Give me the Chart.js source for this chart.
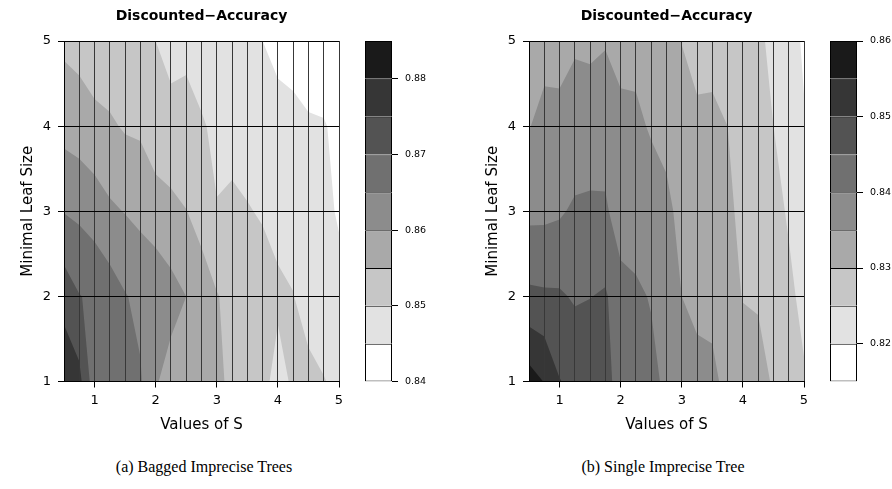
<!DOCTYPE html>
<html>
<head>
<meta charset="utf-8">
<script src="https://cdn.jsdelivr.net/npm/chart.js@4.4.0/dist/chart.umd.min.js"></script>
<style>
  html, body { margin: 0; padding: 0; background: #fff; }
  #page { position: relative; width: 892px; height: 489px; overflow: hidden; background: #fff; }
  canvas { position: absolute; top: 0; }
  .caption { position: absolute; top: 458px; font-family: 'Liberation Serif', serif; font-size: 16px; color: #000; white-space: nowrap; transform: translateX(-50%); }
</style>
</head>
<body>
<div id="page">
  <canvas id="contourA" width="350" height="445" style="left:0px"></canvas>
  <canvas id="keyA" width="100" height="445" style="left:350px"></canvas>
  <canvas id="contourB" width="350" height="445" style="left:465px"></canvas>
  <canvas id="keyB" width="100" height="445" style="left:815px"></canvas>
  <div class="caption" style="left:204px">(a) Bagged Imprecise Trees</div>
  <div class="caption" style="left:663px">(b) Single Imprecise Tree</div>
</div>
<script>
const FONT = "'DejaVu Sans', sans-serif";

// grid of the experiment
const sValues = [0.5, 0.75, 1, 1.25, 1.5, 1.75, 2, 2.25, 2.5, 2.75, 3, 3.25, 3.5, 3.75, 4, 4.25, 4.5, 4.75, 5];
const leafSizes = [1, 2, 3, 4, 5];
const sTickLabels = [1, 2, 3, 4, 5];

// (a) bagged imprecise trees, discounted accuracy per minimal leaf size
const baggedLeaf1 = [0.8790, 0.8765, 0.8670, 0.8672, 0.8665, 0.8655, 0.8605, 0.8580, 0.8570, 0.8565, 0.8555, 0.8545, 0.8525, 0.8510, 0.8488, 0.8505, 0.8510, 0.8502, 0.8490];
const baggedLeaf2 = [0.8730, 0.8702, 0.8691, 0.8675, 0.8653, 0.8638, 0.8636, 0.8618, 0.8600, 0.8570, 0.8553, 0.8535, 0.8520, 0.8515, 0.8506, 0.8501, 0.8485, 0.8475, 0.8465];
const baggedLeaf3 = [0.8648, 0.8640, 0.8627, 0.8608, 0.8598, 0.8588, 0.8573, 0.8563, 0.8551, 0.8535, 0.8502, 0.8507, 0.8502, 0.8497, 0.8490, 0.8485, 0.8475, 0.8462, 0.8445];
const baggedLeaf4 = [0.8583, 0.8575, 0.8564, 0.8557, 0.8545, 0.8542, 0.8520, 0.8515, 0.8515, 0.8505, 0.8490, 0.8488, 0.8485, 0.8478, 0.8469, 0.8464, 0.8455, 0.8453, 0.8440];
const baggedLeaf5 = [0.8540, 0.8533, 0.8520, 0.8515, 0.8512, 0.8508, 0.8500, 0.8485, 0.8490, 0.8475, 0.8470, 0.8466, 0.8462, 0.8450, 0.8435, 0.8430, 0.8425, 0.8422, 0.8420];

// (b) single imprecise tree
const singleLeaf1 = [0.8573, 0.8548, 0.8502, 0.8487, 0.8485, 0.8470, 0.8425, 0.8425, 0.8420, 0.8385, 0.8370, 0.8365, 0.8362, 0.8335, 0.8325, 0.8318, 0.8295, 0.8270, 0.8255];
const singleLeaf2 = [0.8460, 0.8457, 0.8456, 0.8445, 0.8449, 0.8455, 0.8425, 0.8413, 0.8395, 0.8380, 0.8350, 0.8338, 0.8335, 0.8318, 0.8298, 0.8295, 0.8280, 0.8260, 0.8238];
const singleLeaf3 = [0.8388, 0.8389, 0.8394, 0.8408, 0.8411, 0.8410, 0.8366, 0.8362, 0.8375, 0.8362, 0.8335, 0.8325, 0.8320, 0.8312, 0.8285, 0.8280, 0.8265, 0.8245, 0.8220];
const singleLeaf4 = [0.8348, 0.8365, 0.8365, 0.8365, 0.8366, 0.8367, 0.8362, 0.8360, 0.8345, 0.8335, 0.8320, 0.8307, 0.8308, 0.8300, 0.8280, 0.8265, 0.8250, 0.8220, 0.8203];
const singleLeaf5 = [0.8320, 0.8333, 0.8331, 0.8346, 0.8344, 0.8348, 0.8335, 0.8335, 0.8325, 0.8320, 0.8299, 0.8288, 0.8288, 0.8285, 0.8270, 0.8262, 0.8235, 0.8215, 0.8195];

// contour levels and key ticks
const baggedLevels = [0.84, 0.845, 0.85, 0.855, 0.86, 0.865, 0.87, 0.875, 0.88, 0.885];
const singleLevels = [0.815, 0.82, 0.825, 0.83, 0.835, 0.84, 0.845, 0.85, 0.855, 0.86];
const baggedKeyTicks = [0.84, 0.85, 0.86, 0.87, 0.88];
const singleKeyTicks = [0.82, 0.83, 0.84, 0.85, 0.86];
const grayBands = ['#ffffff', '#e2e2e2', '#c6c6c6', '#a9a9a9', '#8c8c8c', '#707070', '#535353', '#363636', '#1a1a1a'];

// keep the part of a cell where value >= level (values linear along the edges)
function clipAbove(poly, level) {
    const out = [];
    for (let i = 0; i < poly.length; i++) {
        const a = poly[i];
        const b = poly[(i + 1) % poly.length];
        const inA = a.v >= level;
        const inB = b.v >= level;
        if (inA) out.push(a);
        if (inA !== inB) {
            const t = (level - a.v) / (b.v - a.v);
            out.push({ x: a.x + t * (b.x - a.x), y: a.y + t * (b.y - a.y), v: level });
        }
    }
    return out;
}

// filled contour drawn under the grid, through the chart scales
function contourLayer(rows, levels) {
    return {
        id: 'contourLayer',
        beforeDatasetsDraw(chart) {
            const { ctx, chartArea, scales } = chart;
            ctx.save();
            ctx.beginPath();
            ctx.rect(chartArea.left, chartArea.top, chartArea.right - chartArea.left, chartArea.bottom - chartArea.top);
            ctx.clip();
            for (let k = 0; k < grayBands.length; k++) {
                ctx.beginPath();
                for (let i = 0; i < leafSizes.length - 1; i++) {
                    for (let j = 0; j < sValues.length - 1; j++) {
                        const cell = [
                            { x: sValues[j], y: leafSizes[i], v: rows[i][j] },
                            { x: sValues[j + 1], y: leafSizes[i], v: rows[i][j + 1] },
                            { x: sValues[j + 1], y: leafSizes[i + 1], v: rows[i + 1][j + 1] },
                            { x: sValues[j], y: leafSizes[i + 1], v: rows[i + 1][j] }
                        ];
                        const poly = k === 0 ? cell : clipAbove(cell, levels[k]);
                        if (poly.length < 3) continue;
                        poly.forEach((p, n) => {
                            const px = scales.x.getPixelForValue(p.x);
                            const py = scales.y.getPixelForValue(p.y);
                            if (n) ctx.lineTo(px, py); else ctx.moveTo(px, py);
                        });
                        ctx.closePath();
                    }
                }
                ctx.fillStyle = grayBands[k];
                ctx.fill();
            }
            ctx.restore();
        }
    };
}

function contourChart(id, rows, levels) {
    return new Chart(document.getElementById(id), {
        type: 'scatter',
        data: { datasets: [] },
        plugins: [contourLayer(rows, levels)],
        options: {
            responsive: false,
            animation: false,
            events: [],
            layout: { autoPadding: false, padding: { left: 0, right: 11, top: 0, bottom: 0 } },
            plugins: {
                legend: { display: false },
                tooltip: { enabled: false },
                title: {
                    display: true,
                    fullSize: false,
                    text: 'Discounted−Accuracy',
                    color: '#000',
                    font: { family: FONT, size: 14, weight: 'bold' },
                    padding: { top: 7.5, bottom: 16.7 }
                }
            },
            scales: {
                x: {
                    type: 'linear',
                    min: 0.5,
                    max: 5,
                    afterBuildTicks: axis => { axis.ticks = sValues.map(v => ({ value: v })); },
                    afterFit: axis => { axis.height = 63.5; },
                    ticks: {
                        color: '#000',
                        font: { family: FONT, size: 13 },
                        padding: 5,
                        maxRotation: 0,
                        autoSkip: false,
                        callback: v => sTickLabels.includes(v) ? String(v) : ''
                    },
                    grid: {
                        z: 1,
                        color: '#383838',
                        lineWidth: 1,
                        drawTicks: true,
                        tickLength: 6,
                        tickColor: c => sTickLabels.includes(c.tick.value) ? '#000' : 'rgba(0,0,0,0)'
                    },
                    border: { display: true, color: '#000', z: 1 },
                    title: { display: true, text: 'Values of S', color: '#000', font: { family: FONT, size: 15 }, padding: { top: 0, bottom: 10.5 } }
                },
                y: {
                    type: 'linear',
                    min: 1,
                    max: 5,
                    afterBuildTicks: axis => { axis.ticks = leafSizes.map(v => ({ value: v })); },
                    afterFit: axis => { axis.width = 64; },
                    ticks: { color: '#000', font: { family: FONT, size: 13 }, padding: 7 },
                    grid: { z: 1, color: '#000', lineWidth: 1, drawTicks: true, tickLength: 6, tickColor: '#000' },
                    border: { display: true, color: '#000', z: 1 },
                    title: { display: true, text: 'Minimal Leaf Size', color: '#000', font: { family: FONT, size: 15 }, padding: { top: 19, bottom: 0 } }
                }
            }
        }
    });
}

function keyChart(id, levels, tickValues) {
    return new Chart(document.getElementById(id), {
        type: 'bar',
        data: {
            labels: ['key'],
            datasets: grayBands.map((c, k) => ({
                data: [[levels[k], levels[k + 1]]],
                backgroundColor: c,
                borderColor: '#000',
                borderWidth: { top: 1, left: 1, right: 1, bottom: k === 0 ? 1 : 0 },
                borderSkipped: false,
                grouped: false,
                barPercentage: 1,
                categoryPercentage: 1,
                inflateAmount: 0
            }))
        },
        options: {
            responsive: false,
            animation: false,
            events: [],
            layout: { autoPadding: false, padding: { left: 15, right: 0, top: 41, bottom: 63.5 } },
            plugins: { legend: { display: false }, tooltip: { enabled: false } },
            scales: {
                x: { display: false },
                y: {
                    position: 'right',
                    min: levels[0],
                    max: levels[levels.length - 1],
                    afterBuildTicks: axis => { axis.ticks = tickValues.map(v => ({ value: v })); },
                    afterFit: axis => { axis.width = 58; },
                    ticks: { color: '#000', font: { family: FONT, size: 9.5 }, padding: 7, callback: v => v.toFixed(2) },
                    grid: { drawOnChartArea: false, drawTicks: true, tickLength: 6, tickColor: '#000' },
                    border: { display: false }
                }
            }
        }
    });
}

contourChart('contourA', [baggedLeaf1, baggedLeaf2, baggedLeaf3, baggedLeaf4, baggedLeaf5], baggedLevels);
keyChart('keyA', baggedLevels, baggedKeyTicks);
contourChart('contourB', [singleLeaf1, singleLeaf2, singleLeaf3, singleLeaf4, singleLeaf5], singleLevels);
keyChart('keyB', singleLevels, singleKeyTicks);
</script>
</body>
</html>
